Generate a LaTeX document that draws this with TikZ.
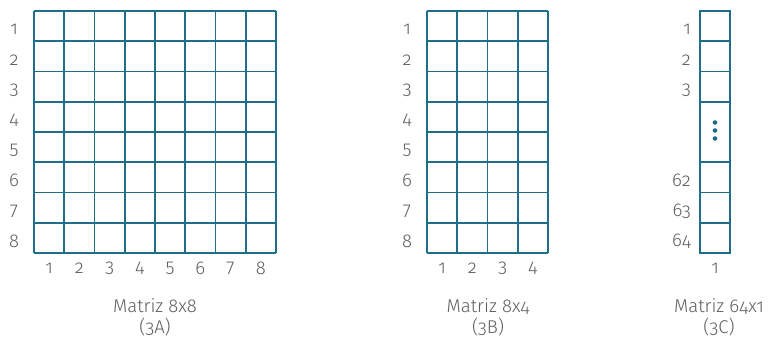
\documentclass[tikz,border=0pt]{standalone}
\usepackage{fontspec}
\setmainfont{Fira Sans Light}[Numbers=OldStyle]
\usepackage{xcolor}
\usepackage{tikz}
\definecolor{gridteal}{RGB}{30, 110, 137}
\definecolor{labelgray}{RGB}{95, 95, 95}

\begin{document}
\begin{tikzpicture}[
    x=1pt, y=-1pt,
    every node/.style={font=\fontsize{18.5}{21}\selectfont, text=labelgray, inner sep=0pt},
    gridline/.style={draw=gridteal, line width=1.8pt},
    title/.style={align=center}
]
\useasboundingbox (0,0) rectangle (772,340);

% Matriz 8x8 (3A)
\foreach \i in {0,...,8} {
  \draw[gridline] ({34+\i*30.25}, 11) -- ({34+\i*30.25}, 253);
  \draw[gridline] (34, {11+\i*30.25}) -- (276, {11+\i*30.25});
}
\foreach \i in {1,...,8} {
  \node (arow\i) at (14, {29.5+(\i-1)*30.25}) {\i};
  \node (acol\i) at ({49+(\i-1)*30.25}, 268) {\i};
}
\node[title] (atitle) at (155, 317) {Matriz 8x8\\(3A)};

% Matriz 8x4 (3B)
\foreach \i in {0,...,4}
  \draw[gridline] ({427+\i*30.25}, 11) -- ({427+\i*30.25}, 253);
\foreach \i in {0,...,8}
  \draw[gridline] (427, {11+\i*30.25}) -- (548, {11+\i*30.25});
\foreach \i in {1,...,8}
  \node (brow\i) at (407, {29.5+(\i-1)*30.25}) {\i};
\foreach \i in {1,...,4}
  \node (bcol\i) at ({442+(\i-1)*30.25}, 268) {\i};
\node[title] (btitle) at (488, 317) {Matriz 8x4\\(3B)};

% Matriz 64x1 (3C)
\draw[gridline] (700, 11) rectangle (730, 253);
\foreach \y in {41.25, 71.5, 101.75, 162.25, 192.5, 222.75}
  \draw[gridline] (700, \y) -- (730, \y);
\foreach \y in {122.5, 130.5, 138.5}
  \fill[gridteal] (715, \y) circle (2.3);
\node[anchor=east] (crow1) at (691, 29.5) {1};
\node[anchor=east] (crow2) at (691, 59.75) {2};
\node[anchor=east] (crow3) at (691, 90) {3};
\node[anchor=east] (crow62) at (691, 180.75) {62};
\node[anchor=east] (crow63) at (691, 211) {63};
\node[anchor=east] (crow64) at (691, 241.25) {64};
\node (ccol1) at (715, 268) {1};
\node[title] (ctitle) at (719, 317) {Matriz 64x1\\(3C)};

\end{tikzpicture}
\end{document}
